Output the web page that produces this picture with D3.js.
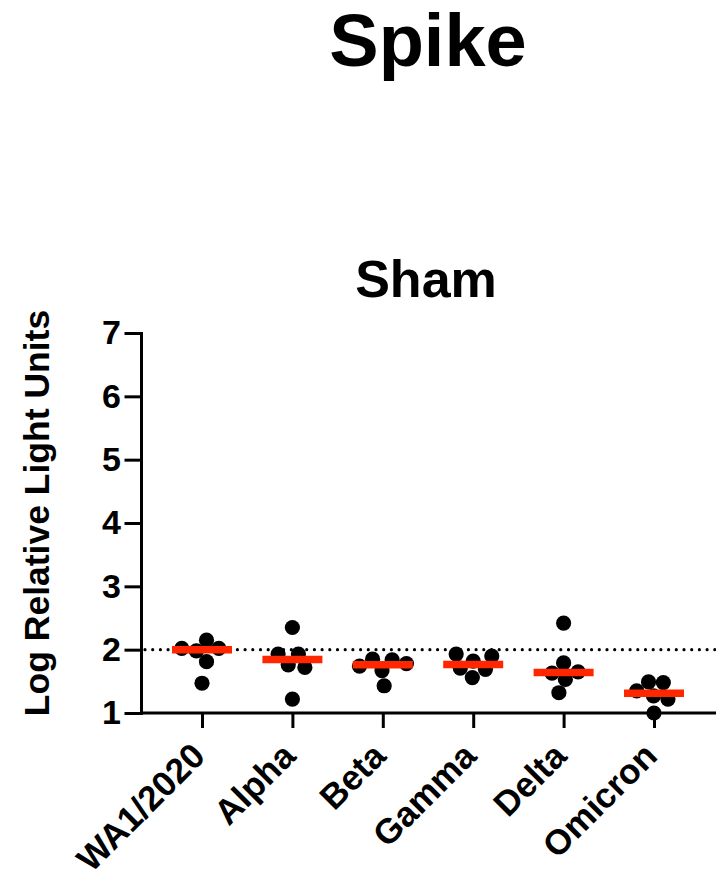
<!DOCTYPE html>
<html>
<head>
<meta charset="utf-8">
<script src="https://cdnjs.cloudflare.com/ajax/libs/d3/7.8.5/d3.min.js"></script>
<style>
body{margin:0;background:#fff;}
svg{display:block;font-family:"Liberation Sans",Arial,Helvetica,sans-serif;font-weight:bold;}
</style>
</head>
<body>
<svg id="chart" width="716" height="875"></svg>
<script>
// variants on the x axis
var variants=['WA1/2020','Alpha','Beta','Gamma','Delta','Omicron'];
// log RLU per animal, one list per variant
var wa1=[2.02,1.98,2.15,2.02,1.81,1.47];
var alpha=[2.35,1.93,1.93,1.76,1.72,1.22];
var beta=[1.85,1.74,1.84,1.67,1.78,1.43];
var gamma=[1.93,1.82,1.71,1.69,1.90,1.56];
var delta=[2.42,1.79,1.63,1.53,1.65,1.32];
var omicron=[1.49,1.48,1.35,1.27,1.22,1.00];
var yTicks=[1,2,3,4,5,6,7];
var cutoff=2;

var groups=[wa1,alpha,beta,gamma,delta,omicron];

var svg=d3.select('#chart');
var w=716;

var y=d3.scaleLinear().domain([1,7]).range([713,333]);
var x=d3.scalePoint().domain(variants).range([202,654]);
var axisX=141;

svg.append('text')
    .attr('x',428).attr('y',66)
    .attr('text-anchor','middle')
    .attr('font-size',74)
    .text('Spike');

svg.append('text')
    .attr('x',426).attr('y',297)
    .attr('text-anchor','middle')
    .attr('font-size',52)
    .text('Sham');

svg.append('text')
    .attr('transform','translate(49,513) rotate(-90)')
    .attr('text-anchor','middle')
    .attr('font-size',35.5)
    .text('Log Relative Light Units');

// dotted threshold line
svg.append('line')
    .attr('x1',axisX+4).attr('x2',w)
    .attr('y1',y(cutoff)).attr('y2',y(cutoff))
    .attr('stroke','#000')
    .attr('stroke-width',3.2)
    .attr('stroke-linecap','round')
    .attr('stroke-dasharray','0 7.7');

// y axis
var gy=svg.append('g')
    .attr('transform','translate('+axisX+',0)')
    .call(d3.axisLeft(y).tickValues(yTicks).tickFormat(d3.format('d')).tickSize(15).tickSizeOuter(0).tickPadding(5));
gy.selectAll('path,line').attr('stroke','#000').attr('stroke-width',3).attr('stroke-linecap','square');
gy.selectAll('text').attr('font-size',34).attr('fill','#000').attr('font-family',null);

// x axis: ticks from the point scale, baseline drawn across the full width
var gx=svg.append('g')
    .attr('transform','translate(0,'+y(1)+')')
    .call(d3.axisBottom(x).tickSize(15).tickFormat(''));
gx.select('.domain').remove();
gx.selectAll('line').attr('stroke','#000').attr('stroke-width',3);
svg.append('line')
    .attr('x1',axisX).attr('x2',w)
    .attr('y1',y(1)).attr('y2',y(1))
    .attr('stroke','#000').attr('stroke-width',3);

svg.append('g').selectAll('text')
    .data(variants)
    .enter()
    .append('text')
    .attr('transform',function(d){
        return 'translate('+(x(d)+5)+',758) rotate(-45)';
    })
    .attr('text-anchor','end')
    .attr('font-size',35)
    .text(function(d){return d;});

// spread the points of each column so they don't sit on top of each other
var nodes=[];
for(var i=0;i<groups.length;i+=1)
{
    for(var j=0;j<groups[i].length;j+=1)
    {
        nodes.push({cat:variants[i],v:groups[i][j],x:x(variants[i])+(j-2.5)*0.6,fy:y(groups[i][j])});
    }
}
var sim=d3.forceSimulation(nodes)
    .force('x',d3.forceX(function(d){return x(d.cat);}).strength(0.08))
    .force('collide',d3.forceCollide(7.4).iterations(3))
    .stop();
for(var k=0;k<300;k+=1) sim.tick();

svg.append('g').selectAll('circle')
    .data(nodes)
    .enter()
    .append('circle')
    .attr('cx',function(d){return d.x;})
    .attr('cy',function(d){return d.fy;})
    .attr('r',7.6)
    .attr('fill','#000');

// median bars
svg.append('g').selectAll('line')
    .data(variants)
    .enter()
    .append('line')
    .attr('x1',function(d){return x(d)-30;})
    .attr('x2',function(d){return x(d)+30;})
    .attr('y1',function(d,i){return y(d3.median(groups[i]));})
    .attr('y2',function(d,i){return y(d3.median(groups[i]));})
    .attr('stroke','#ff2600')
    .attr('stroke-width',7.5);
</script>
</body>
</html>
